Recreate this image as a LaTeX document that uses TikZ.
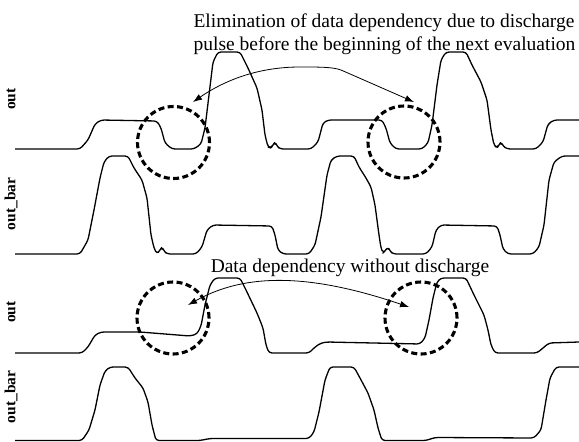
\documentclass[tikz,border=0pt]{standalone}
\usepackage{fontspec}
\setmainfont{Liberation Serif}
\usetikzlibrary{arrows.meta}

\tikzset{
  wave/.style={line width=1.3pt, line join=round, rounded corners=3pt},
  ring/.style={circle, draw, line width=3.1pt, dash pattern=on 6pt off 3.4pt,
               minimum size=72pt, inner sep=0pt},
  link/.style={line width=0.8pt,
               {Latex[length=9pt,width=6.5pt]}-{Latex[length=9pt,width=6.5pt]}},
  sig/.style={rotate=90, font=\fontsize{15.5}{16}\selectfont\bfseries},
  note/.style={anchor=base, font=\fontsize{19.5}{23}\selectfont}
}

\begin{document}
\begin{tikzpicture}[x=1pt, y=-1pt]
\useasboundingbox (0,0) rectangle (579,442);

% signal names
\node[sig] (l1) at (11,99) {out};
\node[sig] (l2) at (11,204) {out\_bar};
\node[sig] (l3) at (11,312) {out};
\node[sig] (l4) at (11,397) {out\_bar};

% out (with discharge pulse)
\draw[wave] (15,149) -- (80,149) -- (88,140) -- (95,124) -- (101,120) -- (157,121)
  -- (161,128) -- (165,143) -- (172,149) -- (194,149) -- (201,144) -- (205,128)
  -- (209,95) -- (213,62) -- (218,52) -- (240,52) -- (248,68) -- (257,88)
  -- (262,110) -- (265,135) -- (268,147) -- (271,148) -- (273,145) -- (275,142)
  -- (277,146) -- (280,149) -- (311,149) -- (318,142) -- (323,123) -- (328,120)
  -- (382,120) -- (386,128) -- (390,143) -- (396,149) -- (422,149) -- (428,143)
  -- (432,125) -- (437,85) -- (441,60) -- (446,52) -- (466,52) -- (472,65)
  -- (481,82) -- (487,100) -- (491,130) -- (494,145) -- (497,148) -- (499,145)
  -- (501,142) -- (503,146) -- (507,149) -- (536,149) -- (543,142) -- (548,124)
  -- (554,120) -- (579,120);

% out_bar (with discharge pulse)
\draw[wave] (15,254) -- (80,254) -- (88,240) -- (94,210) -- (100,178) -- (104,162)
  -- (109,156) -- (128,156) -- (134,168) -- (142,180) -- (147,198) -- (151,235)
  -- (154,248) -- (157,254) -- (160,250) -- (162,247) -- (164,251) -- (167,254)
  -- (196,254) -- (202,247) -- (207,230) -- (213,225) -- (272,226) -- (275,235)
  -- (278,250) -- (283,254) -- (309,254) -- (315,245) -- (321,217) -- (327,175)
  -- (331,160) -- (337,156) -- (354,156) -- (359,167) -- (366,178) -- (371,187)
  -- (375,205) -- (379,235) -- (381,248) -- (383,253) -- (385,251) -- (388,247)
  -- (390,251) -- (393,254) -- (426,254) -- (432,247) -- (436,230) -- (441,225)
  -- (497,226) -- (500,235) -- (503,249) -- (508,254) -- (533,254) -- (539,247)
  -- (544,225) -- (549,180) -- (554,162) -- (562,156) -- (579,156);

% out (without discharge)
\draw[wave] (15,353) -- (82,353) -- (88,347) -- (95,335) -- (101,332) -- (140,332)
  -- (190,336) -- (197,334) -- (201,326) -- (205,305) -- (210,285) -- (215,278)
  -- (240,278) -- (246,290) -- (257,313) -- (263,328) -- (266,345) -- (269,353)
  -- (309,353) -- (315,347) -- (321,343) -- (327,342) -- (420,344) -- (425,338)
  -- (429,320) -- (433,298) -- (437,282) -- (441,278) -- (466,278) -- (474,295)
  -- (484,315) -- (488,330) -- (491,345) -- (495,353) -- (537,353) -- (543,348)
  -- (549,343) -- (579,342);

% out_bar (without discharge)
\draw[wave] (15,440.5) -- (82,440.5) -- (89,430) -- (95,410) -- (100,385) -- (105,371)
  -- (110,367) -- (128,367) -- (135,378) -- (143,388) -- (148,402) -- (152,425)
  -- (156,440.5) -- (200,440.5) -- (210,438.5) -- (309,438.5) -- (314,432)
  -- (319,412) -- (325,380) -- (330,367) -- (354,367) -- (360,378) -- (368,393)
  -- (374,410) -- (378,428) -- (382,440.5) -- (426,440.5) -- (435,437.5)
  -- (534,438) -- (541,430) -- (546,400) -- (550,378) -- (556,367) -- (579,367);

% highlighted regions
\node[ring] (c1) at (173.5,142.5) {};
\node[ring] (c2) at (404,142) {};
\node[ring] (c3) at (173,318) {};
\node[ring] (c4) at (421,318) {};

% arrow end points
\coordinate (a1) at (193,102);
\coordinate (a2) at (414,102);
\coordinate (b1) at (188,305);
\coordinate (b2) at (409,307);

\draw[link] (a1) .. controls (228,78) and (262,67) .. (300,67)
  .. controls (320,67) and (333,67) .. (341,70) -- (a2);
\draw[link] (b1) .. controls (240,276) and (300,270) .. (b2);

% annotations
\node[note] (t1) at (384,27) {Elimination of data dependency due to discharge};
\node[note] (t2) at (384.5,50) {pulse before the beginning of the next evaluation};
\node[note] (t3) at (350,272) {Data dependency without discharge};
\end{tikzpicture}
\end{document}
